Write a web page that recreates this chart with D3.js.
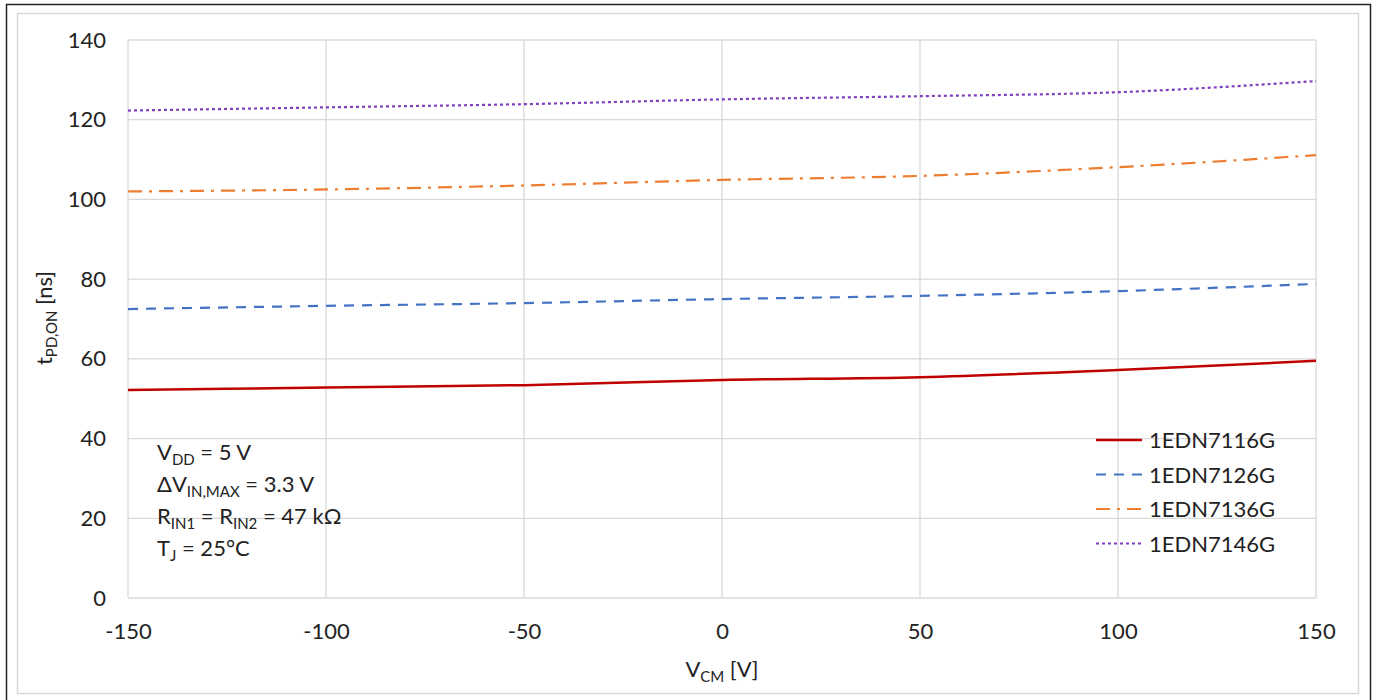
<!DOCTYPE html>
<html><head><meta charset="utf-8">
<script src="https://cdn.jsdelivr.net/npm/d3@7"></script>
<style>body{margin:0;background:#fff}svg{display:block}text{font-family:Lato,"Open Sans",sans-serif;fill:#222}</style>
</head><body><svg id="c" width="1375" height="700"></svg>
<script>
const vcm = [-150, -100, -50, 0, 50, 100, 150];
const s7116 = [52.2, 52.8, 53.4, 54.7, 55.4, 57.2, 59.5];
const s7126 = [72.5, 73.3, 74.0, 75.0, 75.8, 77.0, 78.8];
const s7136 = [102.0, 102.5, 103.5, 104.9, 105.9, 108.1, 111.1];
const s7146 = [122.3, 123.1, 123.9, 125.1, 125.9, 126.9, 129.7];
const xTicks = [-150, -100, -50, 0, 50, 100, 150];
const yTicks = [0, 20, 40, 60, 80, 100, 120, 140];
const names = ["1EDN7116G", "1EDN7126G", "1EDN7136G", "1EDN7146G"];
const colors = ["#c00000", "#4472c4", "#ed7d31", "#7f3fbf"];
const dashes = [null, "10,8", "14,7,3,7", "3,3"];
const seriesVals = [s7116, s7126, s7136, s7146];

const FS = "22px", SUB = "15px";
const svg = d3.select("#c");
svg.append("rect").attr("x",6.5).attr("y",4.5).attr("width",1364).attr("height",710).attr("fill","none").attr("stroke","#222").attr("stroke-width",1.5);
svg.append("rect").attr("x",17.5).attr("y",13.5).attr("width",1341).attr("height",680).attr("fill","none").attr("stroke","#d9d9d9").attr("stroke-width",1.5);

const L=128,R=1316,T=40,B=598;
const x = d3.scaleLinear().domain([-150,150]).range([L,R]);
const y = d3.scaleLinear().domain([0,140]).range([B,T]);

const g = svg.append("g");
g.selectAll(".hg").data(yTicks).join("line").attr("x1",L).attr("x2",R).attr("y1",d=>y(d)).attr("y2",d=>y(d)).attr("stroke","#d9d9d9").attr("stroke-width",1.3);
g.selectAll(".vg").data(xTicks).join("line").attr("y1",T).attr("y2",B).attr("x1",d=>x(d)).attr("x2",d=>x(d)).attr("stroke","#d9d9d9").attr("stroke-width",1.3);

// axes
const xa = svg.append("g").attr("transform",`translate(0,${B})`).call(d3.axisBottom(x).tickValues(xTicks).tickSize(0).tickPadding(25).tickFormat(d=>String(d)));
xa.select(".domain").remove();
xa.selectAll("text").style("font-size",FS).style("font-family","Lato");
const ya = svg.append("g").attr("transform",`translate(${L},0)`).call(d3.axisLeft(y).tickValues(yTicks).tickSize(0).tickPadding(22).tickFormat(d=>String(d)));
ya.select(".domain").remove();
ya.selectAll("text").style("font-size",FS).style("font-family","Lato");

// lines
const line = d3.line().x((d,i)=>x(vcm[i])).y(d=>y(d)).curve(d3.curveMonotoneX);
seriesVals.forEach((vals,k)=>{
  svg.append("path").datum(vals).attr("d",line).attr("fill","none").attr("stroke",colors[k])
    .attr("stroke-width",k===0?2.5:2.2).attr("stroke-dasharray",dashes[k]);
});

// axis titles
const yt = svg.append("text").attr("transform","translate(52,318) rotate(-90)").attr("text-anchor","middle").style("font-size",FS);
yt.append("tspan").text("t");
yt.append("tspan").text("PD,ON").attr("dy",5).style("font-size",SUB);
yt.append("tspan").text(" [ns]").attr("dy",-5);
const xt = svg.append("text").attr("x",722).attr("y",677).attr("text-anchor","middle").style("font-size",FS);
xt.append("tspan").text("V");
xt.append("tspan").text("CM").attr("dy",5).style("font-size",SUB);
xt.append("tspan").text(" [V]").attr("dy",-5);

// annotation
const ann = [["V","DD"," = 5 V"],["ΔV","IN,MAX"," = 3.3 V"],["R","IN1"," = R","IN2"," = 47 kΩ"],["T","J"," = 25°C"]];
ann.forEach((parts,i)=>{
  const t = svg.append("text").attr("x",157).attr("y",460+i*32).style("font-size",FS);
  parts.forEach((p,j)=>{
    if(j%2===1) t.append("tspan").text(p).attr("dy",5).style("font-size",SUB);
    else t.append("tspan").text(p).attr("dy",j===0?0:-5);
  });
});

// legend
names.forEach((n,k)=>{
  const yy = 440+k*34.5;
  svg.append("line").attr("x1",1096).attr("x2",1142).attr("y1",yy).attr("y2",yy).attr("stroke",colors[k]).attr("stroke-width",k===0?2.5:2.2).attr("stroke-dasharray",dashes[k]);
  svg.append("text").attr("x",1149).attr("y",yy+8).text(n).style("font-size",FS);
});
</script></body></html>
